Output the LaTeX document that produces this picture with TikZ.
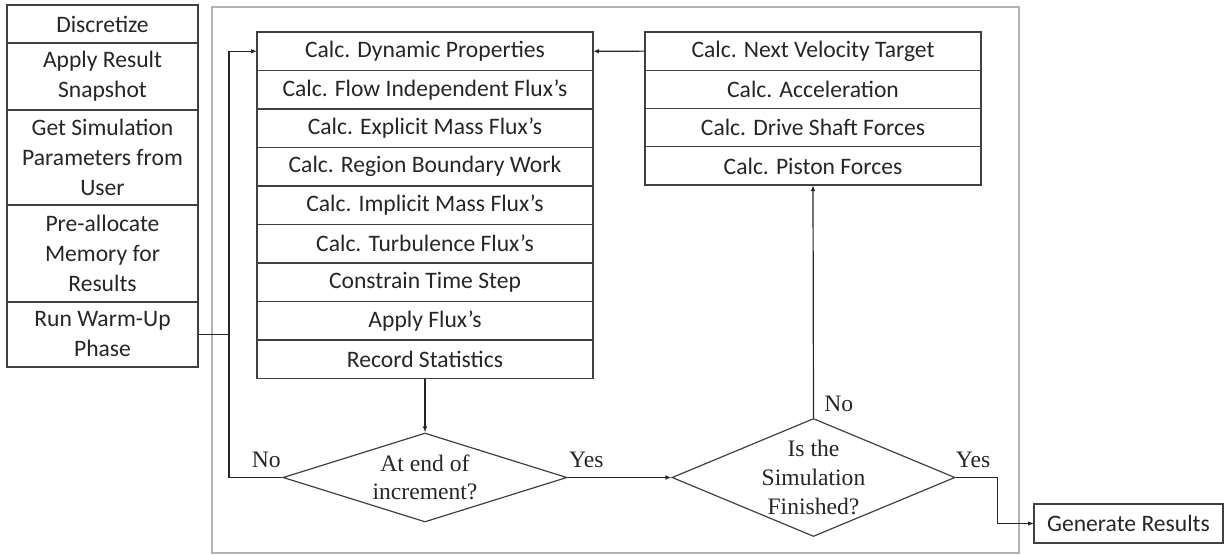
\documentclass[tikz,border=0pt]{standalone}
\usepackage{fontspec}
\setmainfont{Carlito}
\newfontfamily\tnr{Liberation Serif}
\usetikzlibrary{positioning, arrows.meta, shapes.geometric}

\begin{document}
\begin{tikzpicture}[x=0.75pt, y=-0.75pt,
  cell/.style={draw=black!75, line width=0.9pt, outer sep=0pt, inner sep=0pt,
    align=center, text=black!85, font=\fontsize{17.7pt}{22.5pt}\selectfont},
  sidecell/.style={cell, minimum width=143.25pt},
  loopcell/.style={cell, minimum width=252pt, minimum height=28.875pt},
  motioncell/.style={cell, minimum width=252pt, minimum height=28.7pt},
  decision/.style={diamond, draw=black!75, line width=0.9pt, inner sep=-3pt,
    aspect=2.4, align=center, text=black!85, font=\tnr\fontsize{17.7pt}{21.4pt}\selectfont},
  answer/.style={inner sep=0pt, text=black!85, font=\tnr\fontsize{17.7pt}{21pt}\selectfont},
  arr/.style={draw=black!85, line width=0.9pt, -{Latex[length=4.5pt,width=3.5pt]}},
  wire/.style={draw=black!85, line width=0.9pt},
  frame/.style={draw=black!30, line width=0.8pt}]

\useasboundingbox (0,0) rectangle (1225,554);

% outer loop frame
\draw[frame] (212,7) rectangle (1019,553);

% set-up steps
\node[sidecell, minimum height=28.5pt, anchor=north] (disc) at (102.5,5) {Discretize};
\node[sidecell, minimum height=50.25pt, below=0pt of disc] (snap) {Apply Result\\Snapshot};
\node[sidecell, minimum height=71.25pt, below=0pt of snap] (params) {Get Simulation\\Parameters from\\User};
\node[sidecell, minimum height=72.75pt, below=0pt of params] (alloc) {Pre-allocate\\Memory for\\Results};
\node[sidecell, minimum height=48.75pt, below=0pt of alloc] (warm) {Run Warm-Up\\Phase};

% fluid step
\node[loopcell, anchor=north] (dyn) at (425,32) {Calc. Dynamic Properties};
\node[loopcell, below=0pt of dyn] (indep) {Calc. Flow Independent Flux’s};
\node[loopcell, below=0pt of indep] (expl) {Calc. Explicit Mass Flux’s};
\node[loopcell, below=0pt of expl] (work) {Calc. Region Boundary Work};
\node[loopcell, below=0pt of work] (impl) {Calc. Implicit Mass Flux’s};
\node[loopcell, below=0pt of impl] (turb) {Calc. Turbulence Flux’s};
\node[loopcell, below=0pt of turb] (dt) {Constrain Time Step};
\node[loopcell, below=0pt of dt] (apply) {Apply Flux’s};
\node[loopcell, below=0pt of apply] (stats) {Record Statistics};

% motion step
\node[motioncell, anchor=north] (vel) at (813,32) {Calc. Next Velocity Target};
\node[motioncell, below=0pt of vel] (acc) {Calc. Acceleration};
\node[motioncell, below=0pt of acc] (shaft) {Calc. Drive Shaft Forces};
\node[motioncell, below=0pt of shaft] (piston) {Calc. Piston Forces};

% decisions
\node[decision, minimum width=213pt, minimum height=66.75pt] (inc) at (425,477.5) {At end of\\increment?};
\node[decision, minimum width=212.25pt, minimum height=88.5pt] (fin) at (813.5,477.5) {Is the\\Simulation\\Finished?};

\node[cell, minimum width=141.75pt, minimum height=29.25pt] (gen) at (1128.5,523.5) {Generate Results};

% answers
\node[answer, above left=7.5pt and 1pt of inc.west] (incno) {No};
\node[answer, above right=7.5pt and 1pt of inc.east] (incyes) {Yes};
\node[answer, above right=4.5pt and 8pt of fin.north] (finno) {No};
\node[answer, above right=7pt and 0pt of fin.east] (finyes) {Yes};

% connectors
\draw[arr] (warm.east) -- ++(31,0) coordinate (jn) |- (dyn.west);
\draw[wire] (inc.west) -| (jn);
\draw[arr] (stats.south) -- (inc.north);
\draw[arr] (inc.east) -- (fin.west);
\draw[arr] (fin.north) -- (piston.south);
\draw[arr] (vel.west) -- (dyn.east);
\draw[arr] (fin.east) -- ++(42,0) |- (gen.west);

\end{tikzpicture}
\end{document}
